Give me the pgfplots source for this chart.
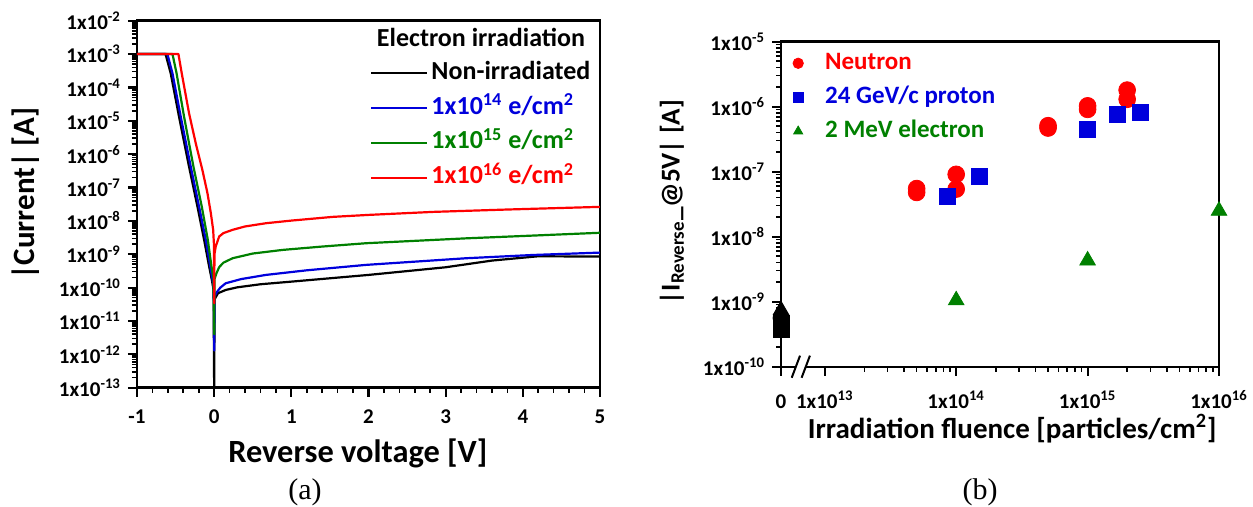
\documentclass[border=0pt]{standalone}
\usepackage{pgfplots}
\pgfplotsset{compat=1.18}
\usepackage{fontspec}
\setmainfont{Carlito}
\newfontfamily\timesfont{Liberation Serif}
\definecolor{cred}{RGB}{255,0,0}
\definecolor{cblue}{RGB}{0,0,220}
\definecolor{cgreen}{RGB}{0,128,0}

\pgfplotsset{
  myax/.style={
    scale only axis, tick align=outside, tick pos=left,
    axis line style={line width=1.2pt},
    major tick length=4.5pt, minor tick length=2.5pt,
    every major tick/.append style={line width=1.1pt, black},
    every minor tick/.append style={line width=0.8pt, black},
    tick label style={font=\fontsize{10.5}{12}\selectfont\bfseries, black},
  }
}

\begin{document}
\begin{tikzpicture}
\path (0,0) rectangle (626.5pt,253.5pt);

% ---------------- (a) ----------------
\begin{axis}[myax,
  at={(68.5pt,59.65pt)}, anchor=south west,
  width=231.5pt, height=183.5pt,
  xmin=-1, xmax=5, ymode=log, ymin=1e-13, ymax=1e-2,
  xtick={-1,0,1,2,3,4,5}, xticklabels={-1,0,1,2,3,4,5},
  xticklabel style={yshift=-3pt},
  minor x tick num=4,
  ytick={1e-13,1e-12,1e-11,1e-10,1e-9,1e-8,1e-7,1e-6,1e-5,1e-4,1e-3,1e-2},
  yticklabels={1x10\textsuperscript{-13},1x10\textsuperscript{-12},1x10\textsuperscript{-11},1x10\textsuperscript{-10},1x10\textsuperscript{-9},1x10\textsuperscript{-8},1x10\textsuperscript{-7},1x10\textsuperscript{-6},1x10\textsuperscript{-5},1x10\textsuperscript{-4},1x10\textsuperscript{-3},1x10\textsuperscript{-2}},
  minor ytick={2e-13,3e-13,4e-13,5e-13,6e-13,7e-13,8e-13,9e-13,
    2e-12,3e-12,4e-12,5e-12,6e-12,7e-12,8e-12,9e-12,
    2e-11,3e-11,4e-11,5e-11,6e-11,7e-11,8e-11,9e-11,
    2e-10,3e-10,4e-10,5e-10,6e-10,7e-10,8e-10,9e-10,
    2e-9,3e-9,4e-9,5e-9,6e-9,7e-9,8e-9,9e-9,
    2e-8,3e-8,4e-8,5e-8,6e-8,7e-8,8e-8,9e-8,
    2e-7,3e-7,4e-7,5e-7,6e-7,7e-7,8e-7,9e-7,
    2e-6,3e-6,4e-6,5e-6,6e-6,7e-6,8e-6,9e-6,
    2e-5,3e-5,4e-5,5e-5,6e-5,7e-5,8e-5,9e-5,
    2e-4,3e-4,4e-4,5e-4,6e-4,7e-4,8e-4,9e-4,
    2e-3,3e-3,4e-3,5e-3,6e-3,7e-3,8e-3,9e-3},
  xlabel={Reverse voltage [V]},
  ylabel={|Current| [A]},
  xlabel style={at={(axis description cs:0.477,-0.18)}, anchor=center, font=\fontsize{16.2}{19}\selectfont\bfseries},
  ylabel style={at={(axis description cs:-0.24,0.529)}, anchor=center, font=\fontsize{15.5}{18}\selectfont\bfseries},
  legend cell align=left,
  legend style={at={(axis description cs:0.503,0.899)}, anchor=north west,
    draw=none, fill=none, inner sep=0pt,
    font=\fontsize{13}{15}\selectfont\bfseries,
    row sep=2.45pt,
    nodes={inner sep=1.5pt, text height=9pt, text depth=3pt}},
  legend image code/.code={\draw[#1, line width=1.1pt] (0pt,0pt) -- (28pt,0pt);},
  every axis plot/.append style={line width=1.1pt, line join=round},
]
\addplot[black] coordinates {(-1,1e-3) (-0.63,1e-3) (-0.563,2.63e-4) (-0.455,1.32e-5) (-0.325,4.17e-7) (-0.216,2.63e-8) (-0.13,2.69e-9) (-0.065,4.27e-10) (-0.03,1.7e-10) (-0.008,8.5e-11) (0,1e-13) (0.006,4.5e-11) (0.05,6.8e-11) (0.15,8.5e-11) (0.3,1.02e-10) (0.6,1.26e-10) (1,1.51e-10) (2,2.4e-10) (3,4.07e-10) (3.6,6.46e-10) (4.2,8.7e-10) (5,8.5e-10)};
\addlegendentry{Non-irradiated}
\addplot[cblue] coordinates {(-1,1e-3) (-0.606,1e-3) (-0.54,2.63e-4) (-0.433,1.32e-5) (-0.303,4.17e-7) (-0.195,2.63e-8) (-0.108,2.69e-9) (-0.05,4.27e-10) (-0.02,1.7e-10) (-0.005,9e-11) (0,1.3e-12) (0.006,5.5e-11) (0.04,7.6e-11) (0.08,1e-10) (0.15,1.35e-10) (0.35,1.8e-10) (0.67,2.4e-10) (1.2,3.3e-10) (1.97,4.8e-10) (3.27,7.6e-10) (4.13,9.5e-10) (5,1.12e-9)};
\addlegendentry{\textcolor{cblue}{1x10\textsuperscript{14} e/cm\textsuperscript{2}}}
\addplot[cgreen] coordinates {(-1,1e-3) (-0.54,1e-3) (-0.487,2.63e-4) (-0.39,1.32e-5) (-0.268,4.17e-7) (-0.16,2.63e-8) (-0.082,2.69e-9) (-0.035,4.3e-10) (-0.01,2e-10) (0,4e-12) (0.005,1.8e-10) (0.03,2.7e-10) (0.065,4.1e-10) (0.12,5.6e-10) (0.24,7.6e-10) (0.5,1.05e-9) (0.89,1.35e-9) (1.4,1.7e-9) (1.97,2.14e-9) (3.27,3.0e-9) (4.1,3.6e-9) (5,4.4e-9)};
\addlegendentry{\textcolor{cgreen}{1x10\textsuperscript{15} e/cm\textsuperscript{2}}}
\addplot[cred] coordinates {(-1,1e-3) (-0.463,1e-3) (-0.42,2.63e-4) (-0.325,1.66e-5) (-0.238,2.09e-6) (-0.152,3.3e-7) (-0.087,6.8e-8) (-0.043,1.7e-8) (-0.013,5.4e-9) (-0.003,2e-9) (0,3.4e-11) (0.004,1e-9) (0.02,1.7e-9) (0.065,3.4e-9) (0.12,4.3e-9) (0.24,5.4e-9) (0.4,6.8e-9) (0.67,8.5e-9) (1,1.02e-8) (1.54,1.32e-8) (2,1.51e-8) (2.84,1.86e-8) (3.8,2.19e-8) (5,2.63e-8)};
\addlegendentry{\textcolor{cred}{1x10\textsuperscript{16} e/cm\textsuperscript{2}}}
\node[font=\fontsize{13}{15}\selectfont\bfseries, anchor=center] at (axis description cs:0.743,0.953) {Electron irradiation};
\end{axis}

% ---------------- (b) ----------------
\begin{axis}[myax,
  at={(390.5pt,70.15pt)}, anchor=south west,
  width=219pt, height=162.5pt,
  xmode=log, ymode=log, xmin=4.645e12, xmax=1e16, ymin=1e-10, ymax=1e-5,
  xtick={4.645e12,1e13,1e14,1e15,1e16},
  xticklabels={0,1x10\textsuperscript{13},1x10\textsuperscript{14},1x10\textsuperscript{15},1x10\textsuperscript{16}},
  xticklabel style={yshift=-3.5pt, text height=9.5pt, text depth=2pt},
  minor xtick={2e13,3e13,4e13,5e13,6e13,7e13,8e13,9e13,
    2e14,3e14,4e14,5e14,6e14,7e14,8e14,9e14,
    2e15,3e15,4e15,5e15,6e15,7e15,8e15,9e15},
  ytick={1e-10,1e-9,1e-8,1e-7,1e-6,1e-5},
  yticklabels={1x10\textsuperscript{-10},1x10\textsuperscript{-9},1x10\textsuperscript{-8},1x10\textsuperscript{-7},1x10\textsuperscript{-6},1x10\textsuperscript{-5}},
  minor ytick={2e-10,3e-10,4e-10,5e-10,6e-10,7e-10,8e-10,9e-10,
    2e-9,3e-9,4e-9,5e-9,6e-9,7e-9,8e-9,9e-9,
    2e-8,3e-8,4e-8,5e-8,6e-8,7e-8,8e-8,9e-8,
    2e-7,3e-7,4e-7,5e-7,6e-7,7e-7,8e-7,9e-7,
    2e-6,3e-6,4e-6,5e-6,6e-6,7e-6,8e-6,9e-6},
  clip=false,
  xlabel={Irradiation fluence [particles/cm\textsuperscript{2}]},
  ylabel={|I\textsubscript{Reverse}\_@5V| [A]},
  xlabel style={at={(axis description cs:0.528,-0.19)}, anchor=center, font=\fontsize{14.5}{17}\selectfont\bfseries},
  ylabel style={at={(axis description cs:-0.249,0.507)}, anchor=center, font=\fontsize{13.6}{16}\selectfont\bfseries},
  legend cell align=left,
  legend style={at={(axis description cs:0.02,0.981)}, anchor=north west,
    draw=none, fill=none, inner sep=0pt,
    font=\fontsize{12.5}{15}\selectfont\bfseries,
    row sep=2pt,
    nodes={inner sep=1.5pt, text height=9pt, text depth=3pt}},
  legend image code/.code={\path[draw=none] (0pt,0pt) -- (16pt,0pt); \draw[#1, mark size=2.6pt] plot coordinates {(4pt,0pt)};},
]
\addplot[only marks, mark=*, color=cred, mark size=4.2pt] coordinates {(5e13,5.5e-8) (5e13,4.8e-8) (1e14,9.1e-8) (1e14,5.4e-8) (5e14,5.1e-7) (5e14,4.7e-7) (1e15,1.03e-6) (1e15,9.1e-7) (2e15,1.8e-6) (2e15,1.3e-6)};
\addlegendentry{\textcolor{cred}{Neutron}}
\addplot[only marks, mark=square*, color=cblue, mark size=4pt] coordinates {(8.5e13,4.1e-8) (1.5e14,8.5e-8) (1e15,4.5e-7) (1.7e15,7.6e-7) (2.5e15,8.3e-7)};
\addlegendentry{\textcolor{cblue}{24 GeV/c proton}}
\addplot[only marks, mark=triangle*, color=cgreen, mark size=4.5pt] coordinates {(1e14,1.05e-9) (1e15,4.3e-9) (1e16,2.5e-8)};
\addlegendentry{\textcolor{cgreen}{2 MeV electron}}
\addplot[only marks, mark=square*, black, mark size=4pt, forget plot] coordinates {(4.645e12,3.8e-10) (4.645e12,4.6e-10)};
\addplot[only marks, mark=*, black, mark size=4pt, forget plot] coordinates {(4.645e12,5.6e-10)};
\addplot[only marks, mark=triangle*, black, mark size=4.5pt, forget plot] coordinates {(4.645e12,7.4e-10)};
\fill[white] (rel axis cs:0.034,-0.012) rectangle (rel axis cs:0.0565,0.012);
\draw[line width=1pt] (rel axis cs:0.0244,-0.034) -- (rel axis cs:0.0434,0.034);
\draw[line width=1pt] (rel axis cs:0.047,-0.034) -- (rel axis cs:0.066,0.034);
\end{axis}

\node[font=\timesfont\fontsize{15}{18}\selectfont, anchor=center] at (152.5pt,7.5pt) {(a)};
\node[font=\timesfont\fontsize{15}{18}\selectfont, anchor=center] at (490pt,7.5pt) {(b)};

\pgfresetboundingbox
\path (0,0) rectangle (626.5pt,253.5pt);
\end{tikzpicture}
\end{document}
